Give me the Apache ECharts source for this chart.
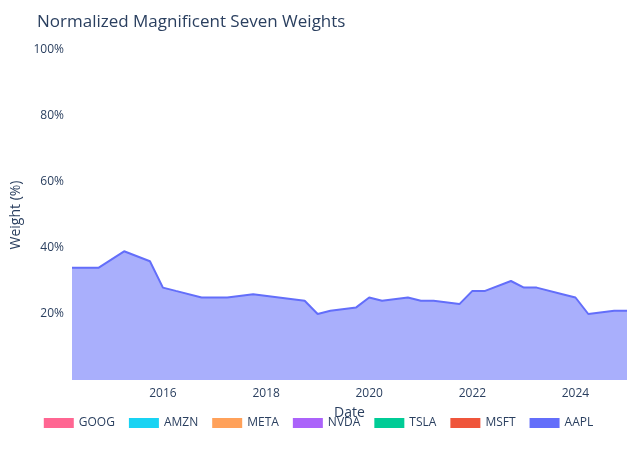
<!DOCTYPE html>
<html>
<head>
<meta charset="utf-8">
<script src="https://cdn.jsdelivr.net/npm/echarts@6/dist/echarts.min.js"></script>
<style>html,body{margin:0;padding:0;background:#fff}#chart{width:637px;height:450px}</style>
</head>
<body>
<div id="chart"></div>
<script>
// dates
var dates = ['2014-03-28','2014-10-01','2015-04-01','2015-10-01','2016-01-01','2016-04-01','2016-10-01',
  '2017-04-01','2017-10-01','2018-04-01','2018-10-01','2019-01-01','2019-04-01','2019-10-01','2020-01-01',
  '2020-04-01','2020-10-01','2021-01-01','2021-04-01','2021-10-01','2022-01-01','2022-04-01','2022-10-01',
  '2023-01-01','2023-04-01','2023-10-01','2024-01-01','2024-04-01','2024-10-01','2024-12-31'];

// cumulative tops of each band (%), bottom to top
var aaplTop = [34,34,39,36,28,27,25,25,26,25,24,20,21,22,25,24,25,24,24,23,27,27,30,28,28,26,25,20,21,21];
var msftTop = [56,57,58,56,49,45,44,45,45,44,43,42,44,46,48,48,48,47,46,46,45,46,50,55,51,50,49,47,41,40];
var tslaTop = [57,58,59,57,50,46,45,46,46,45,44,43,45,47,49,50,52,55,53,55,57,58,61,63,58,57,56,49,44,46];
var nvdaTop = [58,59,60,58,51,48,47,47,48,48,48,45,46,48,51,53,55,57,56,58,63,62,66,67,65,65,65,65,65,66];
var metaTop = [68,68,71,66,63,62,62,63,64,62,61,58,60,61,64,63,66,66,66,68,69,69,70,71,73,72,73,73,74,73];
var amznTop = [77,78,80,79,78,76,77,77,78,80,79,79,80,81,81,84,86,86,86,85,84,83,82,83,84,84,85,86,87,87];
var googTop = dates.map(function(){return 100;});

var tickYears = ['2016-01-01','2018-01-01','2020-01-01','2022-01-01','2024-01-01'];

var names = ['AAPL','MSFT','TSLA','NVDA','META','AMZN','GOOG'];
var tops = [aaplTop,msftTop,tslaTop,nvdaTop,metaTop,amznTop,googTop];
var colors = ['#636EFA','#EF553B','#00CC96','#AB63FA','#FFA15A','#19D3F3','#FF6692'];
var ts = function(d){ return Date.parse(d + 'T00:00:00Z'); };

var series = names.map(function(n,i){
  var prev = i === 0 ? null : tops[i-1];
  return {
    name: n, type: 'line', stack: 'w', symbol: 'none',
    lineStyle: {width: 2, color: colors[i]},
    itemStyle: {color: colors[i]},
    areaStyle: {color: colors[i], opacity: 0.55},
    data: dates.map(function(d,j){ return [ts(d), tops[i][j] - (prev ? prev[j] : 0)]; })
  };
});

var chart = echarts.init(document.getElementById('chart'));
chart.setOption({
  animation: false,
  title: {text: 'Normalized Magnificent Seven Weights', left: 32, top: 9,
    textStyle: {fontFamily: 'Open Sans', fontSize: 17, fontWeight: 'normal', color: '#2a3f5f'}},
  grid: {left: 72, right: 10, top: 50, bottom: 70},
  legend: {
    data: ['GOOG','AMZN','META','NVDA','TSLA','MSFT','AAPL'],
    bottom: 16, left: 'center', itemWidth: 30, itemHeight: 10, itemGap: 14,
    icon: 'rect',
    textStyle: {fontFamily: 'Open Sans', fontSize: 12, color: '#2a3f5f'}
  },
  xAxis: {
    type: 'value', min: ts('2014-03-28'), max: ts('2024-12-31'),
    name: 'Date', nameLocation: 'middle', nameGap: 26,
    nameTextStyle: {fontFamily: 'Open Sans', fontSize: 14, color: '#2a3f5f'},
    axisLine: {show: false},
    axisTick: {show: false, customValues: tickYears.map(ts)},
    axisLabel: {customValues: tickYears.map(ts),
      formatter: function(v){ return new Date(v).getUTCFullYear(); },
      fontFamily: 'Open Sans', fontSize: 12, color: '#2a3f5f'},
    splitLine: {show: false}
  },
  yAxis: {
    type: 'value', min: 0, max: 100, interval: 20,
    name: 'Weight (%)', nameLocation: 'middle', nameGap: 44,
    nameTextStyle: {fontFamily: 'Open Sans', fontSize: 14, color: '#2a3f5f'},
    axisLine: {show: false}, axisTick: {show: false},
    axisLabel: {formatter: function(v){ return v === 0 ? '' : v + '%'; },
      fontFamily: 'Open Sans', fontSize: 12, color: '#2a3f5f'},
    splitLine: {lineStyle: {color: 'rgba(255,255,255,0.5)'}}
  },
  series: series
});
</script>
</body>
</html>
